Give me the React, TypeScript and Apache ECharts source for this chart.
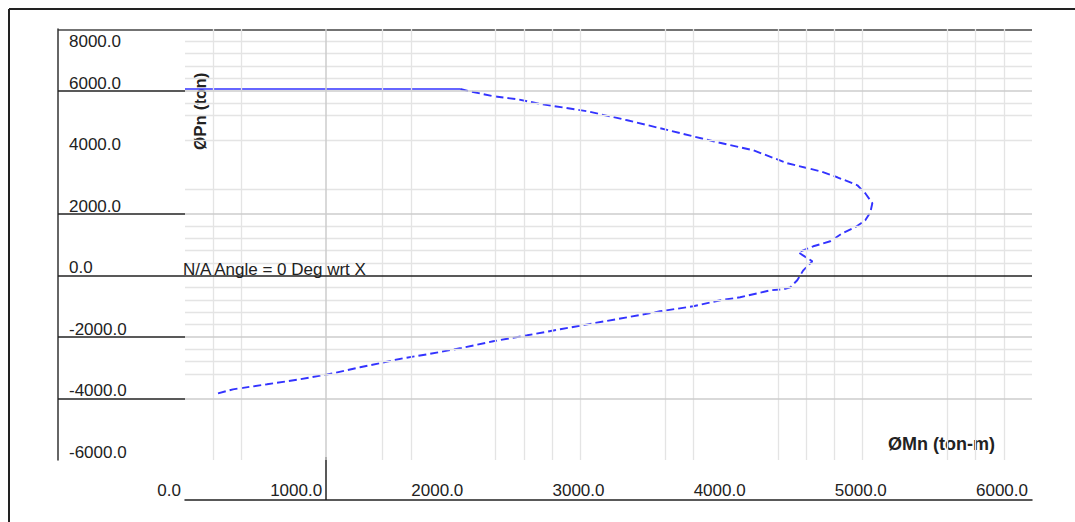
import React, { useEffect, useRef } from "react";
import * as echarts from "echarts";

// Axis labels / ticks
const xLabelValues = [0, 1000, 2000, 3000, 4000, 5000, 6000];
const xTickValues = [1000];
const yLabelValues = [8000, 6000, 4000, 2000, 0, -2000, -4000, -6000];
const yTickValues = [6000, 2000, 0, -2000, -4000];

// Grid lines as they appear in the reference
const xGridMinor = [200, 400, 1400, 1600, 2200, 2400, 2600, 2800, 3400, 3600, 4200, 4400, 4600, 4800, 5400, 5600, 5800];
const xGridMajor = [1000];
const yGridMinor = [7600, 7200, 6800, 6400, 5600, 5200, 4400, 2800, 1600, 1200, 800, 400, -400, -800, -1200, -1600, -2400, -2800, -3200];
const yGridMajor = [6000, 2000, -2000, -4000];

// Pn max plateau
const pmaxMn = [0, 1950];
const pmaxPn = [6050, 6050];

// Interaction curve (ØMn, ØPn)
const curveMn = [1950, 2004, 2183, 2353, 2530, 2849, 3133, 3366, 3742, 4026, 4267, 4500, 4621, 4763, 4819, 4869, 4855, 4819, 4748, 4656, 4571, 4451, 4344, 4444, 4380, 4337, 4288, 4238, 4146, 3933, 3792, 3600, 3366, 3133, 2892, 2658, 2424, 2183, 1949, 1715, 1545, 1240, 1049, 815, 581, 340, 234];
const curvePn = [6050, 5988, 5816, 5718, 5556, 5328, 5036, 4776, 4354, 4061, 3639, 3379, 3184, 2924, 2664, 2339, 2047, 1787, 1560, 1365, 1105, 942, 747, 455, 162, -162, -390, -455, -487, -715, -812, -1007, -1170, -1365, -1560, -1754, -1949, -2144, -2372, -2567, -2697, -2989, -3184, -3379, -3541, -3704, -3834];

const xTitle = "ØMn (ton-m)";
const yTitle = "ØPn (ton)";
const angleNote = "N/A Angle = 0 Deg wrt X";

const FONT = '"Liberation Sans", Arial, sans-serif';
const TXT = "#222";

export default function App() {
  const ref = useRef<HTMLDivElement>(null);
  useEffect(() => {
    if (!ref.current) return;
    const chart = echarts.init(ref.current, null, { renderer: "svg" });
    const minorStyle = { color: "#e4e4e4", width: 1.3, type: "solid" };
    const majorStyle = { color: "#cccccc", width: 1.5, type: "solid" };
    const markData: any[] = [
      ...xGridMinor.map((v) => ({ xAxis: v, lineStyle: minorStyle })),
      ...yGridMinor.map((v) => ({ yAxis: v, lineStyle: minorStyle })),
      ...xGridMajor.map((v) => ({ xAxis: v, lineStyle: majorStyle })),
      ...yGridMajor.map((v) => ({ yAxis: v, lineStyle: majorStyle })),
      {
        yAxis: 0,
        lineStyle: { color: "#222", width: 1.5, type: "solid" },
        label: {
          show: true,
          position: "insideStartTop",
          formatter: angleNote,
          fontFamily: FONT,
          fontSize: 17,
          color: TXT,
          distance: [-2, -3],
        },
      },
    ];
    const option: any = {
      animation: false,
      backgroundColor: "#ffffff",
      grid: { left: 185, top: 29, width: 847, height: 431, containLabel: false },
      xAxis: {
        type: "value",
        min: 0,
        max: 6000,
        interval: 1000,
        position: "bottom",
        offset: 40,
        axisLine: { show: true, onZero: false, lineStyle: { color: "#222", width: 1.5 } },
        axisTick: { show: true, inside: true, length: 43, customValues: xTickValues, lineStyle: { color: "#222", width: 1.5 } },
        axisLabel: {
          inside: true,
          margin: 1,
          customValues: xLabelValues,
          showMinLabel: true,
          showMaxLabel: true,
          formatter: (v: number) => v.toFixed(1),
          align: "right",
          verticalAlign: "bottom",
          padding: [0, 4, 0, 0],
          fontFamily: FONT,
          fontSize: 17,
          color: TXT,
        },
        splitLine: { show: false },
        name: xTitle,
        nameLocation: "end",
        nameGap: -37,
        nameTextStyle: {
          fontFamily: FONT,
          fontSize: 18,
          fontWeight: "bold",
          color: TXT,
          align: "right",
          verticalAlign: "bottom",
          padding: [0, 0, 47, 0],
        },
      },
      yAxis: {
        type: "value",
        min: -6000,
        max: 8000,
        interval: 2000,
        position: "left",
        offset: 127,
        axisLine: { show: true, onZero: false, lineStyle: { color: "#333", width: 1.5 } },
        axisTick: { show: true, inside: true, length: 127, customValues: yTickValues, lineStyle: { color: "#222", width: 1.5 } },
        axisLabel: {
          inside: true,
          margin: 11,
          customValues: yLabelValues,
          showMinLabel: true,
          showMaxLabel: true,
          align: "left",
          verticalAlign: "middle",
          formatter: (v: number) => (v === 8000 ? `{t|${v.toFixed(1)}}` : `{n|${v.toFixed(1)}}`),
          rich: {
            n: { fontFamily: FONT, fontSize: 17, color: TXT, padding: [0, 0, 15, 0] },
            t: { fontFamily: FONT, fontSize: 17, color: TXT, padding: [24, 0, 0, 0] },
          },
        },
        splitLine: { show: false },
      },
      graphic: [
        { type: "line", shape: { x1: 9, y1: 9, x2: 1075, y2: 9 }, style: { stroke: "#222", lineWidth: 2 }, silent: true },
        { type: "line", shape: { x1: 9, y1: 9, x2: 9, y2: 522 }, style: { stroke: "#222", lineWidth: 2 }, silent: true },
        { type: "line", shape: { x1: 58, y1: 30, x2: 1032, y2: 30 }, style: { stroke: "#444", lineWidth: 1.5 }, silent: true },
        {
          type: "text",
          x: 200,
          y: 150,
          rotation: Math.PI / 2,
          style: {
            text: yTitle,
            font: `bold 17px ${FONT}`,
            fill: TXT,
            textAlign: "left",
            textVerticalAlign: "middle",
          },
          silent: true,
        },
      ],
      series: [
        {
          type: "line",
          data: [],
          z: 1,
          silent: true,
          markLine: {
            silent: true,
            symbol: ["none", "none"],
            label: { show: false },
            animation: false,
            data: markData,
          },
        },
        {
          type: "line",
          z: 3,
          showSymbol: false,
          symbol: "none",
          data: pmaxMn.map((m, i) => [m, pmaxPn[i]]),
          lineStyle: { color: "#3333ff", width: 1.6 },
        },
        {
          type: "line",
          z: 3,
          showSymbol: false,
          symbol: "none",
          data: curveMn.map((m, i) => [m, curvePn[i]]),
          lineStyle: { color: "#3333ff", width: 1.9, type: [8, 4] },
        },
      ],
    };
    chart.setOption(option);
    return () => chart.dispose();
  }, []);
  return (
    <div
      ref={ref}
      style={{ position: "fixed", left: 0, top: 0, width: 1075, height: 522, background: "#fff" }}
    />
  );
}
